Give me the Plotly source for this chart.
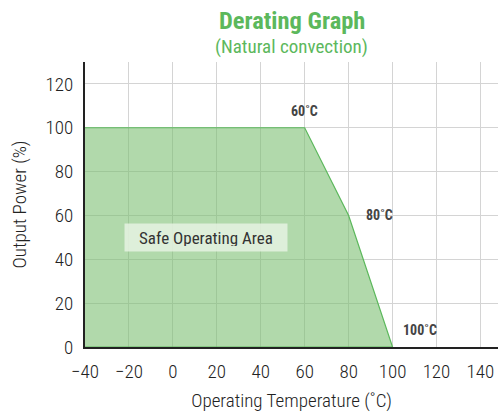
import plotly.graph_objects as go

temps = [-40, 60, 80, 100]
power = [100, 100, 60, 0]
xticks = [-40, -20, 0, 20, 40, 60, 80, 100, 120, 140]
yticks = [0, 20, 40, 60, 80, 100, 120]
labels = ["60˚C", "80˚C", "100˚C"]
label_x = [60, 80, 100]
label_y = [100, 60, 0]

FONT = "Liberation Sans Narrow, Roboto Condensed, Roboto, sans-serif"
GREEN = "#5cb85c"

fig = go.Figure()
fig.add_trace(go.Scatter(
    x=temps + [100, -40], y=power + [0, 0],
    fill="toself", fillcolor="rgba(120,190,110,0.58)",
    line=dict(color=GREEN, width=1.2), mode="lines", hoverinfo="skip",
))

offsets = [(0, 17), (31, 0), (27, 17)]
for t, xv, yv, (dx, dy) in zip(labels, label_x, label_y, offsets):
    fig.add_annotation(x=xv, y=yv, text="<b>" + t + "</b>", showarrow=False,
                       xshift=dx, yshift=dy,
                       font=dict(size=14, color="#444444", family=FONT))

fig.add_annotation(x=15, y=50, text="Safe Operating Area", showarrow=False,
                   bgcolor="rgba(230,242,226,0.85)", borderpad=5, width=152, height=17,
                   font=dict(size=17, color="#333333", family=FONT))

fig.add_annotation(x=0.5, xref="paper", y=1, yref="paper", yshift=42, yanchor="middle",
                   text="<b>Derating Graph</b>", showarrow=False,
                   font=dict(size=24.5, color=GREEN, family=FONT))
fig.add_annotation(x=0.5, xref="paper", y=1, yref="paper", yshift=16, yanchor="middle",
                   text="(Natural convection)", showarrow=False,
                   font=dict(size=19, color=GREEN, family=FONT))

fig.update_layout(
    width=499, height=412,
    margin=dict(l=85, r=1, t=62, b=65),
    paper_bgcolor="white", plot_bgcolor="white",
    showlegend=False,
    font=dict(family=FONT, color="#222222", size=18),
    xaxis=dict(range=[-40, 148], tickvals=xticks, showgrid=True, automargin=False,
               gridcolor="#d4d4d4", gridwidth=1, zeroline=False,
               showline=True, linecolor="#222222", linewidth=2,
               ticks="", tickfont=dict(size=19, weight=300), ticklabelstandoff=6,
               title=dict(text="Operating Temperature (˚C)", font=dict(size=19, weight=300), standoff=24)),
    yaxis=dict(range=[0, 130], tickvals=yticks, showgrid=True, automargin=False,
               gridcolor="#d4d4d4", gridwidth=1, zeroline=False,
               showline=True, linecolor="#222222", linewidth=2,
               ticks="", tickfont=dict(size=19, weight=300), ticklabelstandoff=6,
               title=dict(text="Output Power (%)", font=dict(size=19, weight=300), standoff=14)),
)

fig.write_html("out.html", config={"displayModeBar": False},
               post_script="document.body.style.margin='0';")
